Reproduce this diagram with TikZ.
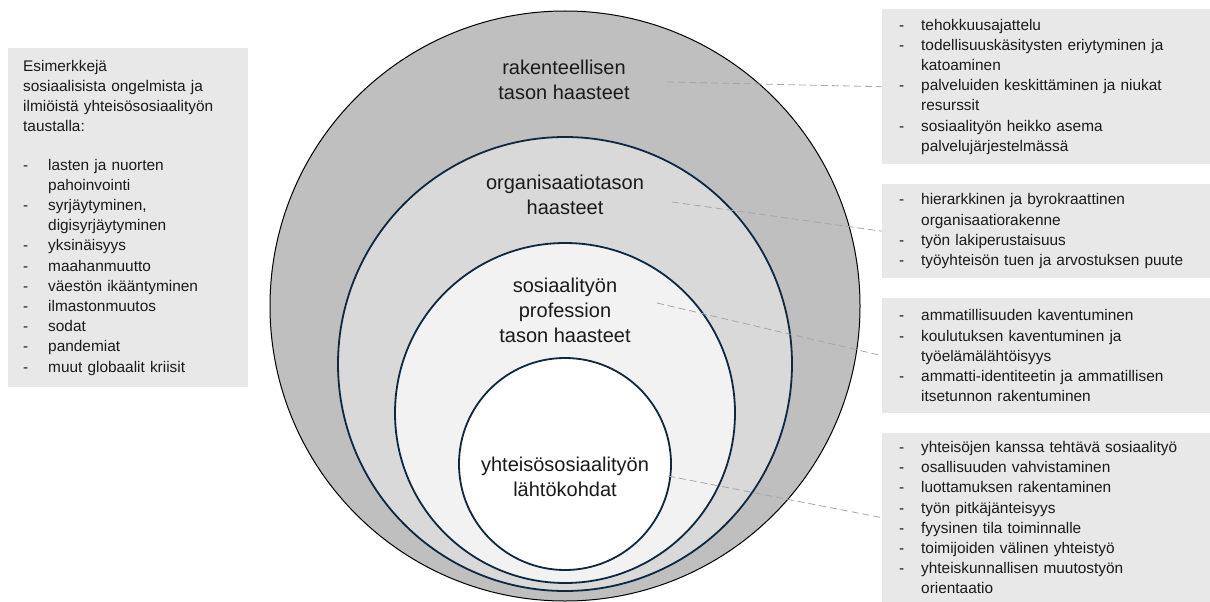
\documentclass[tikz,border=0pt]{standalone}
\usepackage{fontspec}
\setmainfont{Liberation Sans}
\definecolor{ringblue}{HTML}{0E2841}
\definecolor{outergray}{HTML}{BFBFBF}
\definecolor{midgray}{HTML}{D9D9D9}
\definecolor{lightgray}{HTML}{F2F2F2}
\definecolor{boxgray}{HTML}{E8E8E8}
\definecolor{linkgray}{HTML}{A6A6A6}
\definecolor{textdark}{HTML}{1A1A1A}
\newcommand{\itemdash}[1][22pt]{\makebox[#1][l]{-}}
\newcommand{\itemgap}[1][22pt]{\hspace*{#1}}
\begin{document}
\begin{tikzpicture}[x=1pt, y=-1pt,
  ring/.style={draw=ringblue, line width=1.8pt},
  ringlabel/.style={align=center, text=textdark, font=\fontsize{20}{25}\selectfont},
  infobox/.style={fill=boxgray, align=left, text=textdark, inner xsep=17pt, inner ysep=0pt,
    anchor=north west, font=\fontsize{15.4}{20.2}\selectfont},
  link/.style={draw=linkgray, line width=0.8pt, dash pattern=on 7pt off 4pt}]

\useasboundingbox (0,0) rectangle (1210,602);

\draw[fill=outergray, draw=black, line width=1pt] (565,306) circle [radius=295pt];
\draw[ring, fill=midgray] (565,364) circle [radius=227pt];
\draw[ring, fill=lightgray] (565,413) circle [radius=170pt];
\draw[ring, fill=white] (565,464) circle [radius=106pt];

\node[ringlabel] (rak) at (564,80) {rakenteellisen\\tason haasteet};
\node[ringlabel] (org) at (565,195) {organisaatiotason\\haasteet};
\node[ringlabel] (prof) at (565,310) {sosiaalityön\\profession\\tason haasteet};
\node[ringlabel] (yht) at (565,477) {yhteisösosiaalityön\\lähtökohdat};

\node[infobox, inner xsep=15pt, text width=210pt, minimum width=240pt, minimum height=339pt]
  (ilmiot-box) at (8,48) {Esimerkkejä\\
  sosiaalisista ongelmista ja\\
  ilmiöistä yhteisösosiaalityön\\
  taustalla:\\[18pt]
  \itemdash[25pt]lasten ja nuorten\\
  \itemgap[25pt]pahoinvointi\\
  \itemdash[25pt]syrjäytyminen,\\
  \itemgap[25pt]digisyrjäytyminen\\
  \itemdash[25pt]yksinäisyys\\
  \itemdash[25pt]maahanmuutto\\
  \itemdash[25pt]väestön ikääntyminen\\
  \itemdash[25pt]ilmastonmuutos\\
  \itemdash[25pt]sodat\\
  \itemdash[25pt]pandemiat\\
  \itemdash[25pt]muut globaalit kriisit};

\node[infobox, text width=294pt, minimum width=328pt, minimum height=155pt]
  (rak-box) at (882,9) {\itemdash tehokkuusajattelu\\
  \itemdash todellisuuskäsitysten eriytyminen ja\\
  \itemgap katoaminen\\
  \itemdash palveluiden keskittäminen ja niukat\\
  \itemgap resurssit\\
  \itemdash sosiaalityön heikko asema\\
  \itemgap palvelujärjestelmässä};

\node[infobox, text width=294pt, minimum width=328pt, minimum height=94pt]
  (org-box) at (882,184) {\itemdash hierarkkinen ja byrokraattinen\\
  \itemgap organisaatiorakenne\\
  \itemdash työn lakiperustaisuus\\
  \itemdash työyhteisön tuen ja arvostuksen puute};

\node[infobox, text width=294pt, minimum width=328pt, minimum height=115pt]
  (prof-box) at (882,298) {\itemdash ammatillisuuden kaventuminen\\
  \itemdash koulutuksen kaventuminen ja\\
  \itemgap työelämälähtöisyys\\
  \itemdash ammatti-identiteetin ja ammatillisen\\
  \itemgap itsetunnon rakentuminen};

\node[infobox, text width=294pt, minimum width=328pt, minimum height=169pt]
  (yht-box) at (882,433) {\itemdash yhteisöjen kanssa tehtävä sosiaalityö\\
  \itemdash osallisuuden vahvistaminen\\
  \itemdash luottamuksen rakentaminen\\
  \itemdash työn pitkäjänteisyys\\
  \itemdash fyysinen tila toiminnalle\\
  \itemdash toimijoiden välinen yhteistyö\\
  \itemdash yhteiskunnallisen muutostyön\\
  \itemgap orientaatio};

\coordinate (rak-pt) at (667,82);
\coordinate (org-pt) at (672,202);
\coordinate (prof-pt) at (657,303);
\coordinate (yht-pt) at (668,476);

\draw[link] (rak-pt) -- (rak-box.west);
\draw[link] (org-pt) -- (org-box.west);
\draw[link] (prof-pt) -- (prof-box.west);
\draw[link] (yht-pt) -- (yht-box.west);
\end{tikzpicture}
\end{document}
